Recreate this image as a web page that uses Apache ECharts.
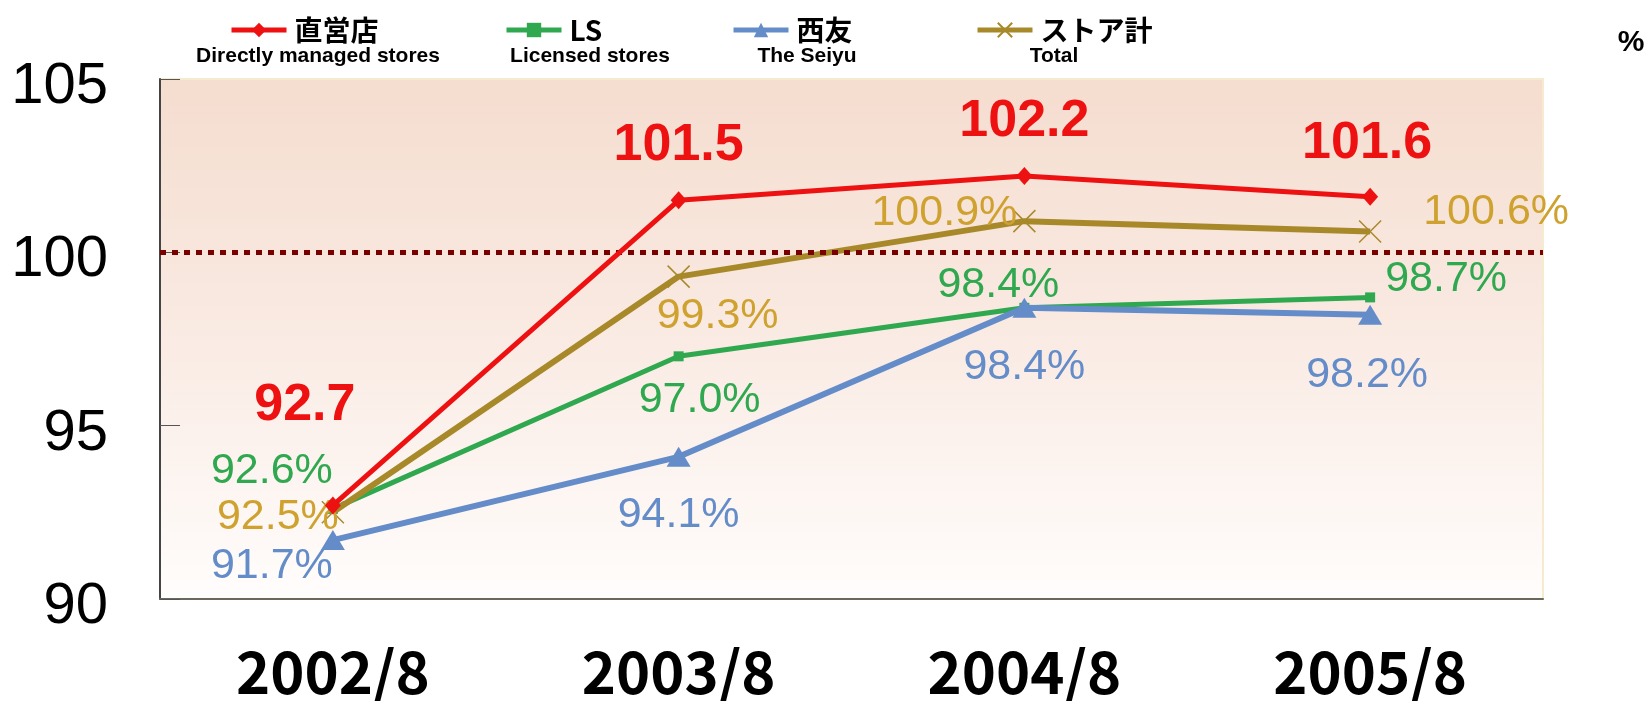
<!DOCTYPE html>
<html>
<head>
<meta charset="utf-8">
<script src="https://cdn.jsdelivr.net/npm/echarts@6/dist/echarts.min.js"></script>
<style>
  html, body { margin: 0; padding: 0; background: #fff; }
  #chart { width: 1650px; height: 701px; }
</style>
</head>
<body>
<div id="chart"></div>
<script>
// categories and values
const categories = ["2002/8", "2003/8", "2004/8", "2005/8"];
const directValues = [92.7, 101.5, 102.2, 101.6];
const licensedValues = [92.6, 97.0, 98.4, 98.7];
const seiyuValues = [91.7, 94.1, 98.4, 98.2];
const totalValues = [92.5, 99.3, 100.9, 100.6];
const yTicks = [90, 95, 100, 105];

// where each value label sits relative to its point (px)
const directOffsets = [[-28, -100], [0, -55], [0, -54], [-3, -53]];
const licensedOffsets = [[-61, -38], [21, 44], [-26, -23], [76, -18]];
const seiyuOffsets = [[-61, 26], [0, 58], [0, 59], [-3, 60]];
const totalOffsets = [[-55, 5], [39, 40], [-80, -8], [126, -19]];

const SANS = "'Liberation Sans', Arial, sans-serif";
const JP = "'Noto Sans CJK JP', 'Liberation Sans', sans-serif";

function withLabels(values, offsets) {
  return values.map((v, i) => ({
    value: v,
    label: { offset: offsets[i] },
  }));
}

function pctLabel(color) {
  return {
    show: true,
    position: "inside",
    color: color,
    fontFamily: SANS,
    fontSize: 43,
    formatter: (p) => p.value.toFixed(1) + "%",
  };
}

function legendAt(name, left) {
  return {
    data: [name],
    left: left,
    top: 11,
    itemWidth: 55,
    itemHeight: 18,
    itemGap: 8,
    lineStyle: { width: 5 },
    textStyle: {
      fontFamily: JP,
      fontSize: 28,
      fontWeight: "bold",
      color: "#000",
      padding: [0, 0, 0, 3],
    },
  };
}

function subTitle(text, x) {
  return {
    type: "text",
    x: x,
    y: 56,
    style: {
      text: text,
      fill: "#000",
      font: "bold 21px " + SANS,
      textAlign: "center",
      textVerticalAlign: "middle",
    },
  };
}

const chart = echarts.init(document.getElementById("chart"));

const option = {
  animation: false,
  backgroundColor: "#fff",
  legend: [
    legendAt("直営店", 224),
    legendAt("LS", 499),
    legendAt("西友", 726),
    legendAt("ストア計", 970),
  ],
  graphic: [
    subTitle("Directly managed stores", 318),
    subTitle("Licensed stores", 590),
    subTitle("The Seiyu", 807),
    subTitle("Total", 1054),
    {
      type: "text",
      x: 1631,
      y: 43,
      style: {
        text: "%",
        fill: "#000",
        font: "bold 30px " + SANS,
        textAlign: "center",
        textVerticalAlign: "middle",
      },
    },
  ],
  grid: {
    left: 160,
    right: 107,
    top: 79,
    bottom: 94,
    show: true,
    borderColor: "#f6ebcf",
    borderWidth: 2,
    backgroundColor: new echarts.graphic.LinearGradient(0, 0, 0, 1, [
      { offset: 0, color: "#f5ddcf" },
      { offset: 0.45, color: "#f9e9e1" },
      { offset: 1, color: "#fffdfc" },
    ]),
  },
  xAxis: {
    type: "category",
    data: categories,
    boundaryGap: true,
    axisLine: { lineStyle: { color: "#6b675a", width: 2 } },
    axisTick: { inside: true, length: 20, lineStyle: { color: "#333", width: 1 } },
    axisLabel: {
      margin: 44,
      color: "#000",
      fontFamily: JP,
      fontWeight: "bold",
      fontSize: 58,
    },
    splitLine: { show: false },
  },
  yAxis: {
    type: "value",
    min: yTicks[0],
    max: yTicks[yTicks.length - 1],
    interval: 5,
    axisLine: { show: true, lineStyle: { color: "#444", width: 2 } },
    axisTick: { show: true, inside: true, length: 20, lineStyle: { color: "#555", width: 1 } },
    axisLabel: {
      margin: 52,
      color: "#000",
      fontFamily: SANS,
      fontSize: 58,
      verticalAlign: "top",
      lineHeight: 16,
    },
    splitLine: { show: false },
  },
  series: [
    {
      name: "直営店",
      type: "line",
      data: withLabels(directValues, directOffsets),
      symbol: "diamond",
      symbolSize: [16, 18],
      color: "#ee1111",
      lineStyle: { color: "#ee1111", width: 5 },
      itemStyle: { color: "#ee1111" },
      label: {
        show: true,
        position: "inside",
        color: "#ee1111",
        fontFamily: SANS,
        fontWeight: "bold",
        fontSize: 52,
        formatter: (p) => p.value.toFixed(1),
      },
      z: 5,
      markLine: {
        silent: true,
        symbol: "none",
        label: { show: false },
        lineStyle: { color: "#7a0000", width: 5, type: [6, 6] },
        data: [{ yAxis: 100 }],
      },
    },
    {
      name: "LS",
      type: "line",
      data: withLabels(licensedValues, licensedOffsets),
      symbol: "rect",
      symbolSize: 10,
      color: "#2fa84f",
      lineStyle: { color: "#2fa84f", width: 5 },
      itemStyle: { color: "#2fa84f" },
      label: pctLabel("#2fa84f"),
      z: 3,
    },
    {
      name: "西友",
      type: "line",
      data: withLabels(seiyuValues, seiyuOffsets),
      symbol: "triangle",
      symbolSize: [24, 20],
      color: "#648cc9",
      lineStyle: { color: "#648cc9", width: 6 },
      itemStyle: { color: "#648cc9" },
      label: pctLabel("#648cc9"),
      z: 4,
    },
    {
      name: "ストア計",
      type: "line",
      data: withLabels(totalValues, totalOffsets),
      symbol: "path://M0,0L10,10M10,0L0,10",
      symbolSize: 22,
      color: "#a8892a",
      lineStyle: { color: "#a8892a", width: 6 },
      itemStyle: { color: "#a8892a", borderColor: "#a8892a", borderWidth: 1.5 },
      label: pctLabel("#cfa22f"),
      z: 4,
    },
  ],
};

chart.setOption(option);
</script>
</body>
</html>
